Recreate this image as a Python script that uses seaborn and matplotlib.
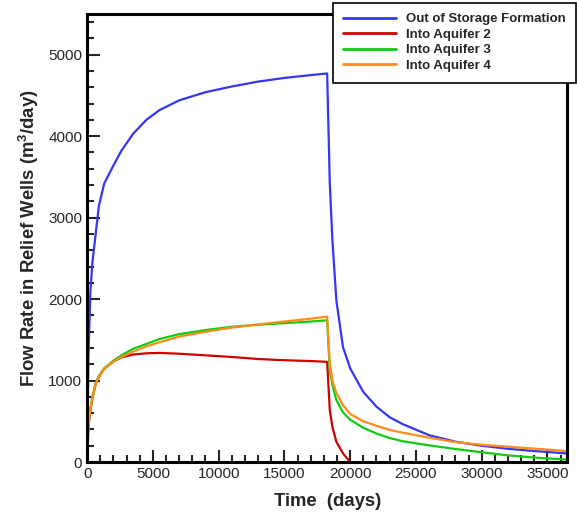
import numpy as np
import pandas as pd
import matplotlib
matplotlib.use("Agg")
import matplotlib.pyplot as plt
from matplotlib.ticker import MultipleLocator
import seaborn as sns

# time grid (days)
time_days = [0, 100, 250, 400, 650, 900, 1300, 2000, 2600, 3500, 4500, 5500, 7000, 9000,
             11000, 13000, 15000, 17000, 18250, 18450, 18650, 18950, 19450, 20000, 21000,
             22000, 23000, 24000, 26000, 28000, 30000, 32000, 34000, 36500]

out_of_storage = [0, 1300, 2100, 2450, 2800, 3150, 3420, 3640, 3820, 4030, 4200, 4320, 4440, 4540,
                  4610, 4670, 4715, 4750, 4770, 3420, 2720, 1985, 1413, 1150, 860,
                  680, 550, 465, 330, 250, 200, 163, 135, 105]
aquifer_2 = [0, 440, 640, 780, 960, 1050, 1145, 1235, 1285, 1320, 1335, 1340, 1330, 1310,
             1290, 1265, 1250, 1240, 1230, 637, 430, 250, 107, 0]
aquifer_3 = [0, 480, 660, 800, 965, 1060, 1150, 1245, 1310, 1390, 1450, 1510, 1570, 1620,
             1660, 1685, 1705, 1725, 1740, 1120, 950, 760, 610, 520, 420,
             350, 295, 255, 205, 160, 120, 82, 55, 30]
aquifer_4 = [0, 440, 640, 780, 960, 1050, 1145, 1235, 1290, 1355, 1420, 1470, 1540, 1600,
             1650, 1690, 1725, 1760, 1785, 1210, 1000, 850, 700, 590, 500,
             445, 395, 360, 300, 245, 212, 188, 165, 135]

series_names = ["Out of Storage Formation", "Into Aquifer 2", "Into Aquifer 3", "Into Aquifer 4"]
series_values = [out_of_storage, aquifer_2, aquifer_3, aquifer_4]
colors = ["#3535f5", "#d00000", "#10cc10", "#ff8c1a"]

frames = []
for name, vals in zip(series_names, series_values):
    frames.append(pd.DataFrame({"time": time_days[:len(vals)], "rate": vals, "series": name}))
df = pd.concat(frames, ignore_index=True)

sns.set_style("ticks")
plt.rcParams["font.family"] = ["Liberation Sans", "DejaVu Sans"]
plt.rcParams["mathtext.fontset"] = "custom"
plt.rcParams["mathtext.rm"] = "Liberation Sans"
plt.rcParams["mathtext.bf"] = "Liberation Sans:bold"

fig = plt.figure(figsize=(5.77, 5.18), dpi=100)
ax = fig.add_axes([0.151, 0.108, 0.832, 0.865])

sns.lineplot(data=df, x="time", y="rate", hue="series", hue_order=series_names,
             palette=colors, sort=False, estimator=None, linewidth=1.6, ax=ax)

ax.set_xlim(0, 36500)
ax.set_ylim(0, 5500)
ax.xaxis.set_major_locator(MultipleLocator(5000))
ax.xaxis.set_minor_locator(MultipleLocator(1000))
ax.yaxis.set_major_locator(MultipleLocator(1000))
ax.yaxis.set_minor_locator(MultipleLocator(200))
ax.tick_params(which="both", direction="in", top=False, right=False, width=1.5, labelsize=11)
ax.tick_params(which="major", length=9)
ax.tick_params(which="minor", length=5)
for s in ax.spines.values():
    s.set_linewidth(2.2)
    s.set_color("black")

ax.set_xlabel("Time  (days)", fontsize=13.3, fontweight="bold", labelpad=9)
ax.set_ylabel(r"Flow Rate in Relief Wells (m$^{\mathbf{3}}$/day)", fontsize=13.3,
              fontweight="bold", labelpad=5)

handles, labels = ax.get_legend_handles_labels()
leg = ax.legend(handles, labels, loc="upper right", bbox_to_anchor=(0.999, 0.995),
                bbox_transform=fig.transFigure, borderaxespad=0, fancybox=False,
                frameon=True, handlelength=4.0, handletextpad=0.75, labelspacing=0.25,
                borderpad=0.8, prop={"weight": "bold", "size": 9.5})
leg.get_frame().set_edgecolor("black")
leg.get_frame().set_linewidth(1.2)
leg.get_frame().set_alpha(1)
for line in leg.get_lines():
    line.set_linewidth(2)

fig.savefig("out.png", dpi=100)
